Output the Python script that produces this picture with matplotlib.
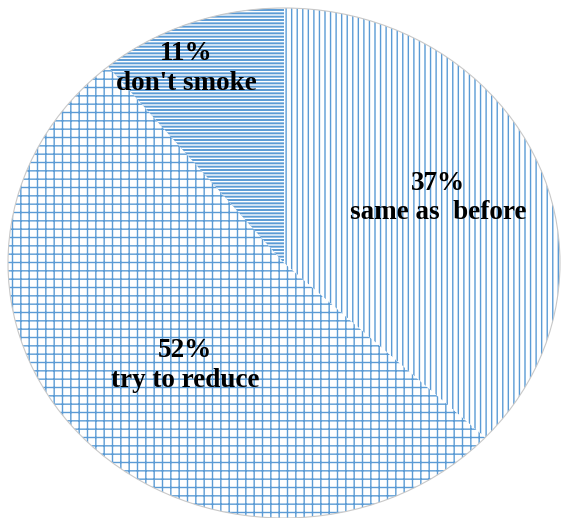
import matplotlib
matplotlib.use('Agg')
from matplotlib import pyplot as plt
from matplotlib.patches import Ellipse

labels = ["same as  before", "try to reduce", "don't smoke"]
shares = [37, 52, 11]
hatches = ['|||', '++', '-----']
faces = ['white', 'white', '#5B9BD5']
edges = ['#5B9BD5', '#5B9BD5', 'white']
# label spots in axes fractions
label_pos = [(0.778, 0.618), (0.329, 0.295), (0.331, 0.868)]

plt.rcParams['hatch.linewidth'] = 1.0

fig = plt.figure(figsize=(5.63, 5.18), dpi=100)
ax = fig.add_axes([0, 0, 1, 1])

wedges, _ = ax.pie(shares, startangle=90, counterclock=False,
                   colors=faces, wedgeprops=dict(linewidth=0))
for w, h, e in zip(wedges, hatches, edges):
    w.set_hatch(h)
    w.set_edgecolor(e)
    w.set_linewidth(0)

ax.add_patch(Ellipse((0, 0), 2, 2, fill=False, edgecolor='#c8c8c8', lw=0.8))

ax.set_aspect('auto')
ax.set_xlim(-284 / 276, (563 - 284) / 276)
ax.set_ylim(-255 / 255, (518 - 255) / 255)
ax.axis('off')

for lab, s, (x, y) in zip(labels, shares, label_pos):
    ax.text(x, y, f"{s}%\n{lab}", transform=ax.transAxes, ha='center', va='center',
            family='Liberation Serif', fontweight='bold', fontsize=19.5, linespacing=1.25)

fig.savefig('out.png', dpi=100)
